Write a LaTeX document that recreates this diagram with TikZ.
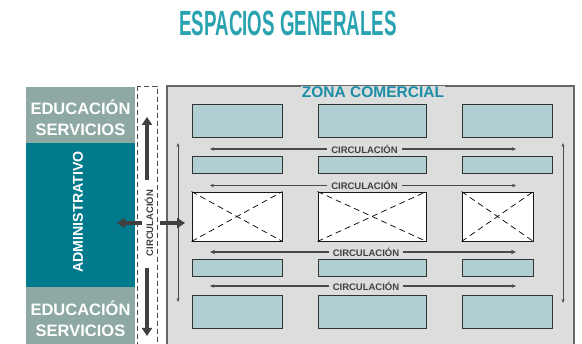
\documentclass[tikz,border=0pt]{standalone}
\usepackage{fontspec}
\setmainfont{Liberation Sans}
\usetikzlibrary{arrows.meta, positioning}
\definecolor{titleteal}{HTML}{2AA3B0}
\definecolor{eduslate}{HTML}{8EA9A3}
\definecolor{adminteal}{HTML}{017A8D}
\definecolor{zonegrey}{HTML}{DCDEDE}
\definecolor{zoneteal}{HTML}{1B8DA6}
\definecolor{shopfill}{HTML}{B1CFD2}
\definecolor{arrowgrey}{HTML}{4A4A4A}

\begin{document}
\begin{tikzpicture}[x=1pt, y=-1pt,
  b/.style={rectangle, draw=black!80, line width=0.9pt, fill=shopfill, inner sep=0pt},
  xb/.style={rectangle, draw=black!90, line width=0.9pt, fill=white, inner sep=0pt},
  xd/.style={dashed, dash pattern=on 6pt off 4pt, line width=0.7pt, black},
  lbl/.style={font=\fontsize{9.5}{11}\selectfont\bfseries, text=black!75, inner sep=4pt},
  ha/.style={-{Stealth[length=4pt, width=3.5pt]}, line width=1.1pt, arrowgrey},
  hb/.style={-{Stealth[length=5pt, width=4.5pt]}, line width=2pt, arrowgrey},
  va/.style={{Stealth[length=4pt, width=3pt]}-{Stealth[length=4pt, width=3pt]}, line width=0.9pt, arrowgrey},
  ta/.style={-{Triangle[length=8pt, width=10pt]}, line width=3.5pt, black!75},
  side/.style={rectangle, inner sep=0pt, text=white, align=center,
               font=\fontsize{16.5}{21}\selectfont\bfseries}]
\useasboundingbox (0,0) rectangle (582,344);
\clip (0,0) rectangle (582,344);

% title
\node[font=\fontsize{35}{35}\selectfont\bfseries, text=titleteal] (title) at (288,23.5)
  {\scalebox{0.535}[1]{ESPACIOS GENERALES}};

% left column
\fill[eduslate] (26,87) rectangle (135,143);
\fill[adminteal] (26,143) rectangle (135,287);
\fill[eduslate] (26,287) rectangle (135,360);
\node[side] (edu1) at (80.5,117.5) {EDUCACIÓN\\SERVICIOS};
\node[side, rotate=90, font=\fontsize{14.2}{16}\selectfont\bfseries] (admin) at (78,212) {ADMINISTRATIVO};
\node[side] (edu2) at (80.5,318.5) {EDUCACIÓN\\SERVICIOS};

% circulation strip
\draw[dashed, dash pattern=on 5pt off 3pt, line width=0.9pt, arrowgrey] (137,86) rectangle (157,360);
\node[lbl, rotate=90, inner sep=0pt] (circv) at (149,223) {CIRCULACIÓN};
\coordinate (up1) at (147,180);
\coordinate (up2) at (147,117);
\coordinate (dn1) at (147,268);
\coordinate (dn2) at (147,336);
\coordinate (lf1) at (142,223);
\coordinate (lf2) at (117,223);
\coordinate (rt1) at (160,223);
\coordinate (rt2) at (185,223);
\draw[ta] (up1) -- (up2);
\draw[ta] (dn1) -- (dn2);
\draw[ta] (lf1) -- (lf2);

% commercial zone
\draw[fill=zonegrey, draw=black!60, line width=1.3pt] (167,86) rectangle (574,360);
\node[font=\fontsize{15.5}{16}\selectfont\bfseries, text=zoneteal, fill=zonegrey, inner sep=0.5pt] (zona) at (373,92) {ZONA COMERCIAL};

% row 1
\node[b, minimum width=90pt, minimum height=33pt] (a1) at (237,120.5) {};
\node[b, minimum width=108pt, minimum height=33pt] (a2) at (372,120.5) {};
\node[b, minimum width=90pt, minimum height=33pt] (a3) at (507,120.5) {};
% row 2
\node[b, minimum width=90pt, minimum height=17pt] (b1) at (237,164.5) {};
\node[b, minimum width=108pt, minimum height=17pt] (b2) at (372,164.5) {};
\node[b, minimum width=90pt, minimum height=17pt] (b3) at (507,164.5) {};
% row 3
\node[xb, minimum width=90pt, minimum height=49pt] (x1) at (237,216.5) {};
\node[xb, minimum width=108pt, minimum height=49pt] (x2) at (372,216.5) {};
\node[xb, minimum width=71pt, minimum height=49pt] (x3) at (497.5,216.5) {};
\draw[xd] (x1.north west) -- (x1.south east);
\draw[xd] (x1.south west) -- (x1.north east);
\draw[xd] (x2.north west) -- (x2.south east);
\draw[xd] (x2.south west) -- (x2.north east);
\draw[xd] (x3.north west) -- (x3.south east);
\draw[xd] (x3.south west) -- (x3.north east);
% row 4
\node[b, minimum width=90pt, minimum height=17pt] (d1) at (237,267.5) {};
\node[b, minimum width=108pt, minimum height=17pt] (d2) at (372,267.5) {};
\node[b, minimum width=71pt, minimum height=17pt] (d3) at (497.5,267.5) {};
% row 5
\node[b, minimum width=90pt, minimum height=33pt] (e1) at (237,311.5) {};
\node[b, minimum width=108pt, minimum height=33pt] (e2) at (372,311.5) {};
\node[b, minimum width=90pt, minimum height=33pt] (e3) at (507,311.5) {};

% circulation labels
\coordinate (wl) at (210,0);
\coordinate (wr) at (516,0);
\node[lbl] (c1) at (364.5,149) {CIRCULACIÓN};
\node[lbl] (c2) at (364.5,185.5) {CIRCULACIÓN};
\node[lbl] (c3) at (366,252) {CIRCULACIÓN};
\node[lbl] (c4) at (366,286) {CIRCULACIÓN};
\draw[ha] (c1.west) -- (c1 -| wl);
\draw[ha] (c1.east) -- (c1 -| wr);
\draw[ha] (c2.west) -- (c2 -| wl);
\draw[ha] (c2.east) -- (c2 -| wr);
\draw[hb] (c3.west) -- (c3 -| wl);
\draw[hb] (c3.east) -- (c3 -| wr);
\draw[ha] (c4.west) -- (c4 -| wl);
\draw[ha] (c4.east) -- (c4 -| wr);

% vertical arrows
\coordinate (vl1) at (178,143);
\coordinate (vl2) at (178,302);
\coordinate (vr1) at (563,143);
\coordinate (vr2) at (563,303);
\draw[va] (vl1) -- (vl2);
\draw[va] (vr1) -- (vr2);
\draw[ta] (rt1) -- (rt2);
\end{tikzpicture}
\end{document}
